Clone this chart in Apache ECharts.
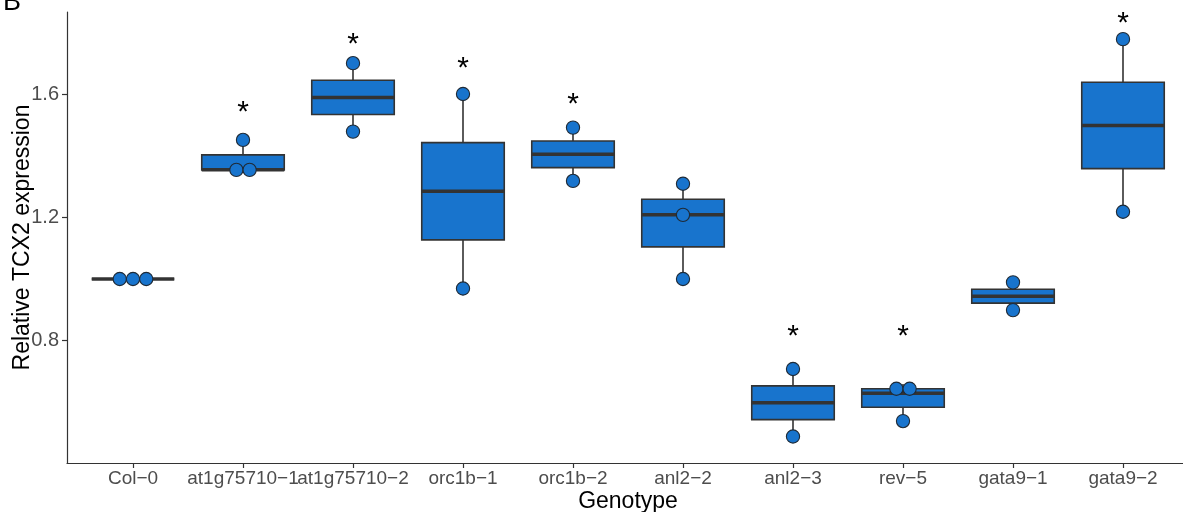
<!DOCTYPE html>
<html style="height: 100%">
    <head>
        <meta charset="utf-8">
    </head>
    <body style="height: 100%; margin: 0; background: #fff">
        <div id="container" style="width: 1183px; height: 512px"></div>
        <script type="text/javascript" src="https://cdn.jsdelivr.net/npm/echarts@6/dist/echarts.min.js"></script>
        <script type="text/javascript">
    // genotypes on the x axis
    var genotypes = ['Col\u22120', 'at1g75710\u22121', 'at1g75710\u22122', 'orc1b\u22121', 'orc1b\u22122',
                     'anl2\u22122', 'anl2\u22123', 'rev\u22125', 'gata9\u22121', 'gata9\u22122'];

    // replicate values (relative TCX2 expression), one list per genotype
    var colValues   = [1.0, 1.0, 1.0];
    var at1Values   = [1.354, 1.354, 1.451];
    var at2Values   = [1.478, 1.700];
    var orc1Values  = [0.969, 1.600];
    var orc2Values  = [1.318, 1.491];
    var anl22Values = [1.0, 1.208, 1.309];
    var anl23Values = [0.489, 0.708];
    var revValues   = [0.539, 0.629, 0.659];
    var gata1Values = [0.899, 0.989];
    var gata2Values = [1.218, 1.778];
    var replicates = [colValues, at1Values, at2Values, orc1Values, orc2Values,
                      anl22Values, anl23Values, revValues, gata1Values, gata2Values];

    // where the significance stars sit (null = no star)
    var starLevels = [null, 1.561, 1.781, 1.703, 1.589, null, 0.835, 0.835, null, 1.851];

    var yTicks = [0.8, 1.2, 1.6];

    var boxFill = '#1874CD';
    var darkLine = '#333333';
    var labelFont = '"Liberation Sans", Arial, sans-serif';

    function quantile(sorted, p) {
        var h = (sorted.length - 1) * p;
        var lo = Math.floor(h);
        var hi = Math.min(lo + 1, sorted.length - 1);
        return sorted[lo] + (h - lo) * (sorted[hi] - sorted[lo]);
    }

    // box stats like ggplot (type 7 quantiles, whiskers within 1.5 IQR)
    var boxData = [];
    var allValues = [];
    for (var i = 0; i < replicates.length; i++) {
        var s = replicates[i].slice().sort(function (a, b) { return a - b; });
        var q1 = quantile(s, 0.25), med = quantile(s, 0.5), q3 = quantile(s, 0.75);
        var iqr = q3 - q1;
        var inside = s.filter(function (v) { return v >= q1 - 1.5 * iqr && v <= q3 + 1.5 * iqr; });
        boxData.push([i, inside[0], q1, med, q3, inside[inside.length - 1]]);
        allValues = allValues.concat(s);
    }

    // dot-density binning (binwidth = range / 30), centred stacks
    var binWidth = (Math.max.apply(null, allValues) - Math.min.apply(null, allValues)) / 30;
    var dotData = [];
    for (var i = 0; i < replicates.length; i++) {
        var s = replicates[i].slice().sort(function (a, b) { return a - b; });
        var bins = [];
        var cur = null;
        for (var k = 0; k < s.length; k++) {
            if (cur === null || s[k] >= cur.start + binWidth) {
                cur = { start: s[k], vals: [] };
                bins.push(cur);
            }
            cur.vals.push(s[k]);
        }
        bins.forEach(function (b) {
            var center = (b.vals[0] + b.vals[b.vals.length - 1]) / 2;
            var n = b.vals.length;
            for (var j = 0; j < n; j++) {
                dotData.push([i, center, j - (n - 1) / 2]);
            }
        });
    }

    var starData = [];
    starLevels.forEach(function (v, i) {
        if (v !== null) starData.push([i, v]);
    });

    var xIdx = genotypes.map(function (g, i) { return i; });

    var dom = document.getElementById('container');
    var myChart = echarts.init(dom, null, { renderer: 'canvas' });
    var option = {
        animation: false,
        backgroundColor: '#ffffff',
        graphic: [{
            type: 'text',
            x: 3,
            y: 16,
            style: {
                text: 'B',
                font: '27px ' + labelFont,
                fill: '#000',
                verticalAlign: 'bottom'
            }
        }],
        grid: {
            left: 67,
            top: 12,
            width: 1122,
            height: 451,
            containLabel: false,
            outerBoundsMode: 'none'
        },
        xAxis: {
            type: 'value',
            min: -0.6,
            max: 9.6,
            splitLine: { show: false },
            axisLine: { show: true, onZero: false, lineStyle: { color: darkLine, width: 1.2 } },
            axisTick: { show: true, customValues: xIdx, length: 5, lineStyle: { color: darkLine, width: 1.2 } },
            axisLabel: {
                customValues: xIdx,
                formatter: function (v) { return genotypes[Math.round(v)]; },
                color: '#4D4D4D',
                fontSize: 19,
                fontFamily: labelFont,
                margin: 6
            },
            name: 'Genotype',
            nameLocation: 'middle',
            nameGap: 27,
            nameMoveOverlap: false,
            nameTextStyle: { color: '#000', fontSize: 23, fontFamily: labelFont }
        },
        yAxis: {
            type: 'value',
            min: 0.403,
            max: 1.866,
            splitLine: { show: false },
            axisLine: { show: true, onZero: false, lineStyle: { color: darkLine, width: 1.2 } },
            axisTick: { show: true, customValues: yTicks, length: 5, lineStyle: { color: darkLine, width: 1.2 } },
            axisLabel: {
                customValues: yTicks,
                formatter: function (v) { return v.toFixed(1); },
                color: '#4D4D4D',
                fontSize: 20,
                fontFamily: labelFont,
                margin: 8
            },
            name: 'Relative TCX2 expression',
            nameLocation: 'middle',
            nameGap: 33,
            nameMoveOverlap: false,
            nameTextStyle: { color: '#000', fontSize: 23, fontFamily: labelFont }
        },
        series: [{
            // boxes
            type: 'custom',
            z: 2,
            data: boxData,
            encode: { x: 0, y: [1, 2, 3, 4, 5] },
            renderItem: function (params, api) {
                var x = api.value(0);
                var pLo = api.coord([x, api.value(1)]);
                var pQ1 = api.coord([x, api.value(2)]);
                var pMed = api.coord([x, api.value(3)]);
                var pQ3 = api.coord([x, api.value(4)]);
                var pHi = api.coord([x, api.value(5)]);
                var half = api.size([0.75, 0])[0] / 2;
                var cx = pMed[0];
                var lineStyle = { stroke: darkLine, lineWidth: 1.6 };
                return {
                    type: 'group',
                    children: [
                        { type: 'line', shape: { x1: cx, y1: pLo[1], x2: cx, y2: pQ1[1] }, style: lineStyle },
                        { type: 'line', shape: { x1: cx, y1: pQ3[1], x2: cx, y2: pHi[1] }, style: lineStyle },
                        { type: 'rect', shape: { x: cx - half, y: pQ3[1], width: half * 2, height: pQ1[1] - pQ3[1] },
                          style: { fill: boxFill, stroke: darkLine, lineWidth: 1.6 } },
                        { type: 'line', shape: { x1: cx - half, y1: pMed[1], x2: cx + half, y2: pMed[1] },
                          style: { stroke: darkLine, lineWidth: 3.5 } }
                    ]
                };
            }
        }, {
            // replicate dots
            type: 'custom',
            z: 3,
            data: dotData,
            encode: { x: 0, y: 1 },
            renderItem: function (params, api) {
                var p = api.coord([api.value(0), api.value(1)]);
                var d = api.size([0, binWidth])[1];
                return {
                    type: 'circle',
                    shape: { cx: p[0] + api.value(2) * d, cy: p[1], r: d / 2 },
                    style: { fill: boxFill, stroke: '#1f2a36', lineWidth: 1.1 }
                };
            }
        }, {
            // significance stars
            type: 'custom',
            z: 4,
            data: starData,
            encode: { x: 0, y: 1 },
            renderItem: function (params, api) {
                var p = api.coord([api.value(0), api.value(1)]);
                var fs = 30;
                return {
                    type: 'text',
                    style: {
                        text: '*',
                        x: p[0],
                        y: p[1] + fs * 0.23,
                        font: fs + 'px ' + labelFont,
                        fill: '#000',
                        align: 'center',
                        verticalAlign: 'middle'
                    }
                };
            }
        }]
    };

    if (option && typeof option === 'object') {
        myChart.setOption(option);
    }
        </script>
    </body>
</html>
